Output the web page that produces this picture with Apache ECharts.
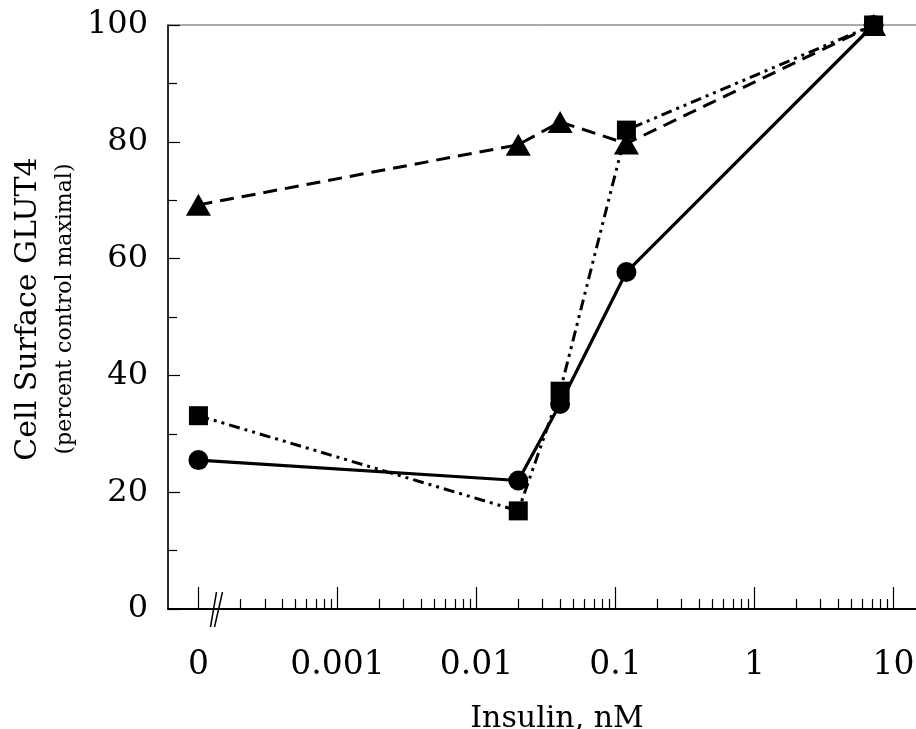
<!DOCTYPE html>
<html>
<head>
<meta charset="utf-8">
<script src="https://cdn.jsdelivr.net/npm/echarts@6/dist/echarts.min.js"></script>
<style>
html,body{margin:0;padding:0;background:#fff;}
#chart{width:916px;height:729px;}
</style>
</head>
<body>
<div id="chart"></div>
<script>
// ---- data ----
const insulinNM = [0, 0.02, 0.04, 0.12, 7.2];              // insulin dose, nM (0 = no insulin)
const circleSeries = [25.5, 22.0, 35.1, 57.7, 100];        // solid line, circles
const squareSeries = [33.1, 16.8, 37.3, 82.0, 100];        // dash-dot-dot line, squares
const triangleSeries = [69.2, 79.5, 83.4, 79.7, 100];      // dashed line, triangles
const xTickValues = [0, 0.001, 0.01, 0.1, 1, 10];
const xTickLabels = ['0', '0.001', '0.01', '0.1', '1', '10'];
const yTickValues = [0, 20, 40, 60, 80, 100];
const zeroDosePosition = 0.0001;  // where the "0" dose sits on the log axis (axis break)

// ---- helpers ----
const lg = v => Math.log10(v === 0 ? zeroDosePosition : v);
const majorPos = xTickValues.map(lg);
const minorPos = [];
for (let d = -4; d <= 0; d++) {
  for (let k = 2; k <= 9; k++) minorPos.push(Math.log10(k) + d);
}
const xMin = -4.219, xMax = 1.177;
const labelFor = v => {
  for (let i = 0; i < majorPos.length; i++) if (Math.abs(majorPos[i] - v) < 1e-6) return xTickLabels[i];
  return '';
};
const pts = ys => insulinNM.map((x, i) => [lg(x), ys[i]]);

const FONT = 'DejaVu Serif';
const chart = echarts.init(document.getElementById('chart'), null, {renderer: 'canvas'});
const option = {
  animation: false,
  backgroundColor: '#fff',
  grid: {left: 168, right: -2, top: 25, bottom: 120, containLabel: false, outerBoundsMode: 'none',
    show: true, borderColor: '#555', borderWidth: 1, backgroundColor: 'transparent'},
  xAxis: [
    {
      type: 'value', min: xMin, max: xMax,
      axisLine: {show: true, onZero: false, lineStyle: {color: '#000', width: 2}},
      axisTick: {show: true, inside: true, length: 22, customValues: majorPos, lineStyle: {color: '#000', width: 1.2}},
      axisLabel: {show: true, customValues: majorPos, formatter: v => labelFor(v), margin: 40,
        fontFamily: FONT, fontSize: 33, color: '#000'},
      splitLine: {show: false},
      name: 'Insulin, nM', nameLocation: 'middle', nameGap: 95,
      nameTextStyle: {fontFamily: FONT, fontSize: 30, color: '#000', padding: [0, 0, 0, 28]}
    },
    {
      type: 'value', min: xMin, max: xMax, position: 'bottom',
      axisLine: {show: false},
      axisTick: {show: true, inside: true, length: 10, customValues: minorPos, lineStyle: {color: '#000', width: 1.2}},
      axisLabel: {show: false},
      splitLine: {show: false}
    }
  ],
  yAxis: {
    type: 'value', min: 0, max: 100, interval: 20,
    axisLine: {show: true, onZero: false, lineStyle: {color: '#000', width: 1.5}},
    axisTick: {show: true, inside: true, length: 12, lineStyle: {color: '#000', width: 1.2}},
    minorTick: {show: true, splitNumber: 2, length: 9, lineStyle: {color: '#000', width: 1.2}},
    axisLabel: {margin: 20, fontFamily: FONT, fontSize: 32, color: '#000',
      customValues: yTickValues},
    splitLine: {show: false},
    name: '{a|Cell Surface GLUT4}\n{b|(percent control maximal)}',
    nameLocation: 'middle', nameRotate: 90, nameGap: 86,
    nameTextStyle: {
      color: '#000',
      padding: [0, 0, 0, 16],
      rich: {
        a: {fontFamily: FONT, fontSize: 30, color: '#000', lineHeight: 40},
        b: {fontFamily: FONT, fontSize: 22, color: '#000', lineHeight: 34}
      }
    }
  },
  series: [
    {
      name: 'circles', type: 'line', data: pts(circleSeries),
      symbol: 'circle', symbolSize: 20,
      lineStyle: {color: '#000', width: 3.2, type: 'solid'},
      itemStyle: {color: '#000'}, z: 3
    },
    {
      name: 'squares', type: 'line', data: pts(squareSeries),
      symbol: 'rect', symbolSize: 19,
      lineStyle: {color: '#000', width: 3, type: [11, 5, 3, 5, 3, 5]},
      itemStyle: {color: '#000'}, z: 4
    },
    {
      name: 'triangles', type: 'line', data: pts(triangleSeries),
      symbol: 'triangle', symbolSize: [25, 22],
      lineStyle: {color: '#000', width: 3, type: [14, 8]},
      itemStyle: {color: '#000'}, z: 5
    }
  ]
};
chart.setOption(option);

// axis-break marks "//" placed through the axis scale
const b = chart.convertToPixel({xAxisIndex: 0, yAxisIndex: 0}, [-3.87, 0]);
chart.setOption({
  graphic: [
    {type: 'line', shape: {x1: b[0] - 6, y1: b[1] + 18, x2: b[0], y2: b[1] - 17}, style: {stroke: '#000', lineWidth: 1.5}},
    {type: 'line', shape: {x1: b[0] - 2, y1: b[1] + 18, x2: b[0] + 6, y2: b[1] - 17}, style: {stroke: '#000', lineWidth: 1.5}}
  ]
});
</script>
</body>
</html>
